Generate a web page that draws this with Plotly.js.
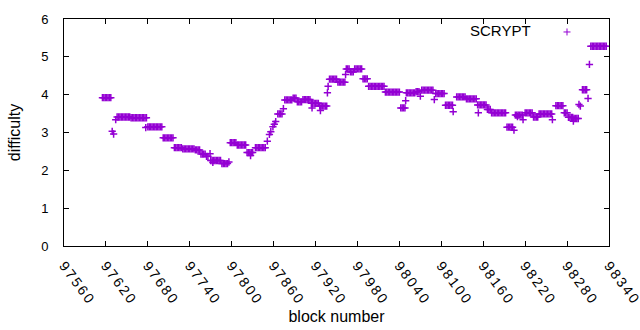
<!DOCTYPE html>
<html><head><meta charset="utf-8">
<script src="https://cdn.plot.ly/plotly-3.0.1.min.js"></script>
<style>
html,body{margin:0;padding:0;background:#fff}
.xtick text{letter-spacing:2.2px}
</style>
</head><body><div id="chart" style="width:640px;height:330px"></div>
<script>
const seriesName = "SCRYPT";
const xTitle = "block number";
const yTitle = "difficulty";
const xTicks = [97560, 97620, 97680, 97740, 97800, 97860, 97920, 97980, 98040, 98100, 98160, 98220, 98280, 98340];
const yTicks = [0, 1, 2, 3, 4, 5, 6];

const blocks = [
97615,97617,97619,97621,97623,97625,97627,
97629,97631,97634,
97636,97638,97640,97642,97644,97646,97648,97650,97652,97654,
97656,97658,97660,97662,97664,97666,97668,97670,97672,97674,97676,97678,
97677,
97680,97682,97684,97686,97688,97690,97692,97694,97696,97698,97700,
97702,97704,97706,97708,97710,97712,97714,97716,
97718,97720,97722,97724,97726,97728,
97730,97732,97734,97736,97738,97740,97742,97744,97746,
97748,97750,97752,97754,
97756,97758,97760,97762,
97764,97766,
97769,
97770,97772,97774,97776,97778,97780,97782,97784,
97773,
97786,97788,97790,97792,97794,
97796,
97798,97800,97802,97804,97806,
97808,97810,97812,97814,97816,97818,97820,
97822,97824,97826,97828,97830,
97827,
97834,97836,97838,97840,97842,97844,97846,97848,
97851,97854,97856,97859,97861,97863,
97866,97868,97870,97872,
97874,
97876,97878,97880,97882,97884,97886,
97888,97890,97892,
97894,97896,97898,97900,
97902,97904,97906,97908,97910,97912,
97914,97916,97918,97920,97922,97924,
97915,
97926,97928,97930,97932,97934,97936,
97927,
97937,97938,
97940,97942,97944,97946,97948,97950,
97952,97954,97956,97958,97960,97962,
97963,
97964,97966,97968,
97970,97972,97974,
97976,97978,97980,97982,97984,97986,
97988,97990,97992,97994,
97996,97998,98000,98002,98004,98006,98008,98010,98012,98014,98016,98018,
98020,98022,98024,98026,98028,98030,98032,98034,98036,98038,98040,
98042,98044,98046,98048,
98049,
98050,98052,98054,98056,98058,98060,98062,
98064,98066,98068,
98070,
98072,98074,98076,98078,98080,98082,98084,98086,98088,
98090,
98092,98094,98096,98098,98100,98102,98104,
98106,98108,98110,98112,98114,98116,
98117,
98122,98124,98126,98128,98130,98132,98134,
98136,98138,98140,98142,98144,98146,98148,98150,
98153,
98152,98154,98156,98158,98160,98162,98164,
98166,98168,98170,
98172,98174,98176,98178,98180,98182,98184,98186,98188,98190,98192,
98194,98196,98198,98200,98202,
98204,
98206,98208,98210,98212,98214,98216,
98209,98217,
98220,98222,98224,98226,98228,98230,
98232,98234,98236,98238,
98240,98242,98244,98246,98248,98250,98252,98254,98256,98258,
98259,
98264,98266,98268,98270,98272,98274,
98276,98278,98280,
98282,98284,98286,98288,
98290,98292,98294,98296,
98289,
98297,98299,
98302,98304,98306,98308,
98310,
98312,
98314,98316,98318,98320,98322,98324,98326,98328,98330,98332,98334,98336
];

const difficulty = [
3.92,3.92,3.92,3.92,3.92,3.92,3.92,
3.03,2.96,3.34,
3.41,3.41,3.41,3.41,3.41,3.41,3.41,3.41,3.41,3.41,
3.39,3.39,3.39,3.39,3.39,3.39,3.39,3.39,3.39,3.39,3.39,3.39,
3.13,
3.15,3.15,3.15,3.15,3.15,3.15,3.15,3.15,3.15,3.15,3.15,
2.86,2.86,2.86,2.86,2.86,2.86,2.86,2.86,
2.60,2.60,2.60,2.60,2.60,2.60,
2.57,2.57,2.57,2.57,2.57,2.57,2.57,2.57,2.57,
2.54,2.54,2.54,2.54,
2.43,2.43,2.43,2.43,
2.37,2.37,
2.44,
2.26,2.26,2.26,2.26,2.26,2.26,2.26,2.26,
2.21,
2.18,2.18,2.18,2.18,2.18,
2.22,
2.73,2.73,2.73,2.73,2.73,
2.67,2.67,2.67,2.67,2.67,2.67,2.67,
2.47,2.47,2.47,2.47,2.47,
2.39,
2.60,2.60,2.60,2.60,2.60,2.60,2.60,2.60,
2.77,2.95,3.02,3.15,3.22,3.29,
3.49,3.49,3.49,3.49,
3.63,
3.86,3.86,3.86,3.86,3.86,3.86,
3.91,3.91,3.91,
3.81,3.81,3.81,3.81,
3.87,3.87,3.87,3.87,3.87,3.87,
3.77,3.77,3.77,3.77,3.77,3.77,
3.65,
3.70,3.70,3.70,3.70,3.70,3.70,
3.58,
4.05,4.22,
4.41,4.41,4.41,4.41,4.41,4.41,
4.33,4.33,4.33,4.33,4.33,4.33,
4.53,
4.68,4.68,4.68,
4.60,4.60,4.60,
4.68,4.68,4.68,4.68,4.68,4.68,
4.42,4.42,4.42,4.42,
4.22,4.22,4.22,4.22,4.22,4.22,4.22,4.22,4.22,4.22,4.22,4.22,
4.07,4.07,4.07,4.07,4.07,4.07,4.07,4.07,4.07,4.07,4.07,
3.65,3.65,3.65,3.65,
3.84,
4.05,4.05,4.05,4.05,4.05,4.05,4.05,
4.08,4.08,4.08,
3.96,
4.12,4.12,4.12,4.12,4.12,4.12,4.12,4.12,4.12,
3.87,
4.03,4.03,4.03,4.03,4.03,4.03,4.03,
3.72,3.72,3.72,3.72,3.72,3.72,
3.55,
3.94,3.94,3.94,3.94,3.94,3.94,3.94,
3.89,3.89,3.89,3.89,3.89,3.89,3.89,3.89,
3.52,
3.73,3.73,3.73,3.73,3.73,3.73,3.73,
3.61,3.61,3.61,
3.52,3.52,3.52,3.52,3.52,3.52,3.52,3.52,3.52,3.52,3.52,
3.14,3.14,3.14,3.14,3.14,
3.06,
3.46,3.46,3.46,3.46,3.46,3.46,
3.42,3.34,
3.52,3.52,3.52,3.52,3.52,3.52,
3.41,3.41,3.41,3.41,
3.49,3.49,3.49,3.49,3.49,3.49,3.49,3.49,3.49,3.49,
3.34,
3.71,3.71,3.71,3.71,3.71,3.71,
3.52,3.52,3.52,
3.40,3.40,3.40,3.40,
3.37,3.37,3.37,3.37,
3.30,
3.74,3.70,
4.13,4.13,4.13,4.13,
3.90,
4.80,
5.28,5.28,5.28,5.28,5.28,5.28,5.28,5.28,5.28,5.28,5.28,5.28
];

const purple = "#9400d3";
const L = 64, R = 609, T = 19, B = 246.5;
const px = (x) => (x - L) / (R - L);
const py = (y) => (B - y) / (B - T);

const trace = {
  type: "scatter", mode: "markers", name: seriesName,
  x: blocks, y: difficulty, showlegend: false, cliponaxis: false,
  marker: { symbol: "cross-thin", size: 5.2, color: purple, line: { color: purple, width: 1.5 } }
};

const axisCommon = {
  showline: true, linecolor: "#000", linewidth: 1, mirror: "allticks",
  ticks: "inside", ticklen: 5, tickwidth: 1, tickcolor: "#000",
  showgrid: false, zeroline: false, automargin: false, fixedrange: true,
  ticklabeloverflow: "allow"
};

const layout = {
  width: 640, height: 330,
  margin: { l: L, r: 640 - R, t: T, b: 330 - B, pad: 0 },
  paper_bgcolor: "#fff", plot_bgcolor: "#fff",
  font: { family: "Liberation Sans, Arial, sans-serif", size: 13, color: "#000" },
  showlegend: false,
  xaxis: Object.assign({}, axisCommon, {
    range: [97560, 98340], tickmode: "array", tickvals: xTicks, ticktext: xTicks.map(String),
    tickangle: 53, tickfont: { size: 14 }, ticklabelstandoff: 5,
    title: { text: xTitle, font: { size: 16 }, standoff: 0 }
  }),
  yaxis: Object.assign({}, axisCommon, {
    range: [0, 6], tickmode: "array", tickvals: yTicks, ticktext: yTicks.map(String),
    tickfont: { size: 13 }, ticklabelstandoff: 12,
    title: { text: yTitle, font: { size: 16 }, standoff: 16 }
  }),
  annotations: [{
    xref: "paper", yref: "paper", x: px(533), y: py(31), xanchor: "right", yanchor: "middle",
    text: seriesName, showarrow: false, font: { size: 15, color: "#000" }
  }],
  shapes: [
    { type: "line", xref: "paper", yref: "paper", x0: px(563.5), x1: px(570.5), y0: py(32), y1: py(32), line: { color: purple, width: 1 } },
    { type: "line", xref: "paper", yref: "paper", x0: px(567), x1: px(567), y0: py(28.5), y1: py(35.5), line: { color: purple, width: 1 } }
  ]
};

Plotly.newPlot("chart", [trace], layout, { displayModeBar: false, staticPlot: true });
</script>
</body></html>
